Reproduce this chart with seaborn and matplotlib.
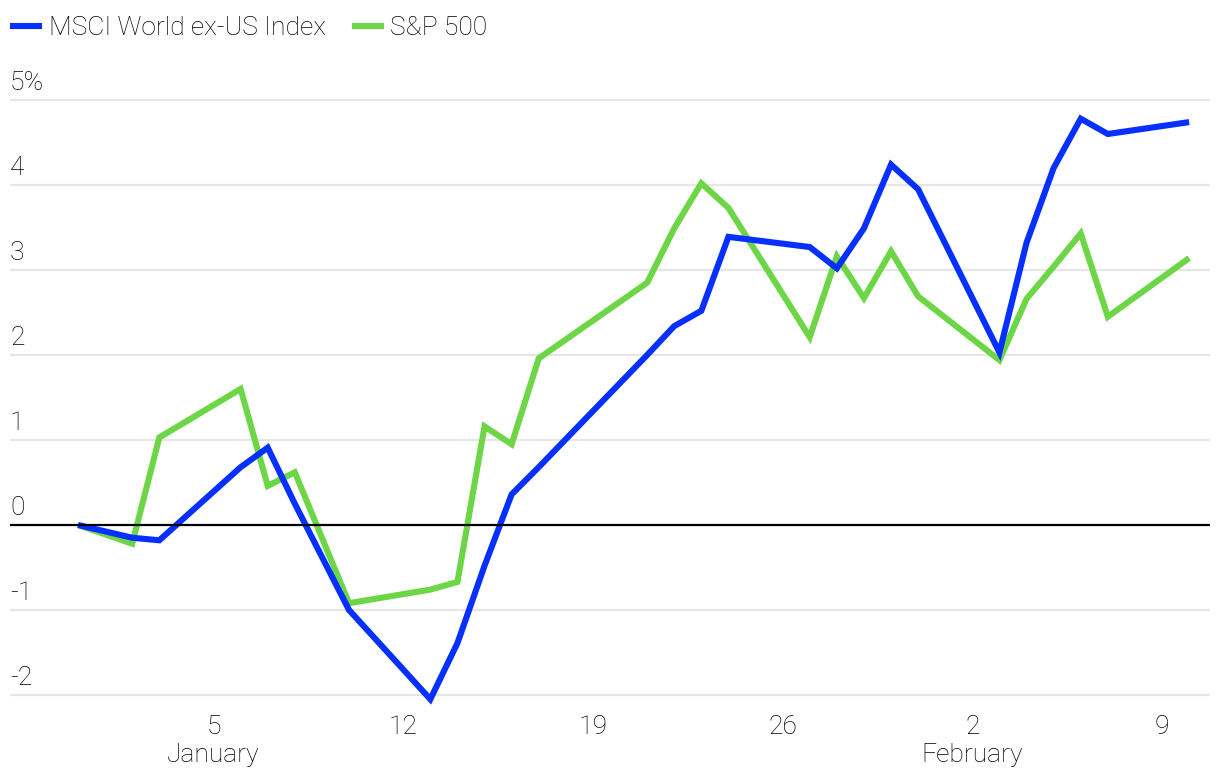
import matplotlib
matplotlib.use("Agg")
import matplotlib.pyplot as plt
import matplotlib.transforms as mtransforms
import seaborn as sns
import pandas as pd

# ---- data -------------------------------------------------------------
dates = ["2024-12-31", "2025-01-02", "2025-01-03", "2025-01-06", "2025-01-07",
         "2025-01-08", "2025-01-10", "2025-01-13", "2025-01-14", "2025-01-15",
         "2025-01-16", "2025-01-17", "2025-01-21", "2025-01-22", "2025-01-23",
         "2025-01-24", "2025-01-27", "2025-01-28", "2025-01-29", "2025-01-30",
         "2025-01-31", "2025-02-03", "2025-02-04", "2025-02-05", "2025-02-06",
         "2025-02-07", "2025-02-10"]
msci = [0.00, -0.15, -0.18, 0.68, 0.91, 0.25, -1.00, -2.05, -1.39, -0.48,
        0.36, 0.68, 2.00, 2.34, 2.52, 3.39, 3.27, 3.02, 3.49, 4.24,
        3.95, 2.03, 3.32, 4.20, 4.78, 4.60, 4.74]
sp500 = [0.00, -0.22, 1.03, 1.60, 0.46, 0.62, -0.92, -0.76, -0.67, 1.16,
         0.95, 1.96, 2.85, 3.49, 4.02, 3.73, 2.21, 3.16, 2.67, 3.22,
         2.69, 1.94, 2.66, 3.04, 3.43, 2.45, 3.14]
series_names = ["MSCI World ex-US Index", "S&P 500"]
xtick_dates = ["2025-01-05", "2025-01-12", "2025-01-19", "2025-01-26",
               "2025-02-02", "2025-02-09"]
xtick_labels = ["5\nJanuary", "12", "19", "26", "2\nFebruary", "9"]
ytick_values = [-2, -1, 0, 1, 2, 3, 4, 5]
ytick_labels = ["-2", "-1", "0", "1", "2", "3", "4", "5%"]

# ---- styling ------------------------------------------------------------
sns.set_theme(style="white")
plt.rcParams["font.family"] = ["Roboto", "DejaVu Sans"]
plt.rcParams["font.weight"] = "light"
FS = 19
TXT = "#000000"
BLUE = "#0530FF"
GREEN = "#6CD646"
colors = {series_names[0]: BLUE, series_names[1]: GREEN}

df = pd.DataFrame({
    "date": pd.to_datetime(dates * 2),
    "value": msci + sp500,
    "series": [series_names[0]] * len(dates) + [series_names[1]] * len(dates),
})

W, H = 1220, 778
fig = plt.figure(figsize=(W / 100, H / 100), dpi=100)
left, right = 10 / W, 1210 / W
y_lo, y_hi = -2.15, 5.05
px_per_unit = 85
top_px = 100 - (y_hi - 5) * px_per_unit
bot_px = 695 + (-2 - y_lo) * px_per_unit
ax = fig.add_axes([left, 1 - bot_px / H, right - left, (bot_px - top_px) / H])

# draw green first, blue on top
for name in [series_names[1], series_names[0]]:
    sub = df[df["series"] == name]
    sns.lineplot(data=sub, x="date", y="value", ax=ax, color=colors[name],
                 linewidth=4.4, label=name, legend=False,
                 solid_joinstyle="miter", solid_capstyle="butt")

start = pd.Timestamp(dates[0])
ax.set_xlim(start - pd.Timedelta(days=2.51), start + pd.Timedelta(days=41.77))
ax.set_ylim(y_lo, y_hi)

# grid lines
for v in ytick_values:
    if v == 0:
        ax.axhline(v, color="black", lw=1.6, zorder=3)
    else:
        ax.axhline(v, color="#e6e6e6", lw=1.6, zorder=0)

for s in ax.spines.values():
    s.set_visible(False)

ax.set_yticks([])
ax.set_ylabel("")
ax.set_xlabel("")
ax.set_xticks(pd.to_datetime(xtick_dates))
ax.set_xticklabels(xtick_labels, fontsize=FS, color=TXT, linespacing=1.22,
                   fontweight="light")
ax.tick_params(axis="x", length=0, pad=5)

# y labels inside, above grid lines
trans = mtransforms.offset_copy(
    mtransforms.blended_transform_factory(ax.transAxes, ax.transData),
    fig=fig, x=0, y=10, units="dots")
for v, lab in zip(ytick_values, ytick_labels):
    ax.text(0, v, lab, transform=trans, ha="left", va="baseline",
            fontsize=FS, color=TXT, fontweight="light")

# legend
handles = [plt.Line2D([], [], color=colors[n], lw=4.4, solid_capstyle="butt")
           for n in series_names]
fig.legend(handles, series_names, loc="center left",
           bbox_to_anchor=(10 / W, 1 - 28 / H), ncol=2, frameon=False,
           handlelength=1.22, handletextpad=0.24,
           columnspacing=1.0, borderpad=0, borderaxespad=0,
           labelcolor=TXT, prop={"size": FS, "weight": "light"})

fig.savefig("out.png", dpi=100)
